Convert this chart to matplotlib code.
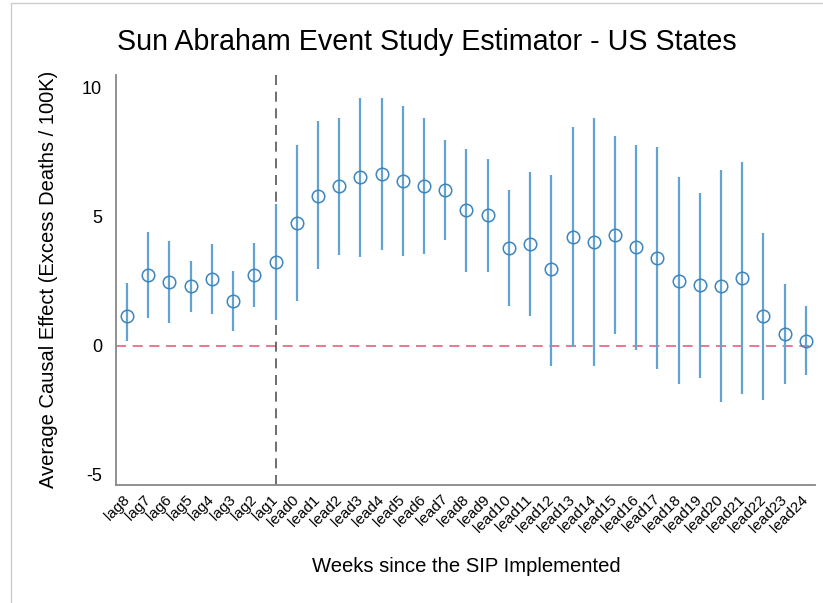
import matplotlib
matplotlib.use("Agg")
import matplotlib.pyplot as plt
import numpy as np
from matplotlib.patches import Rectangle

plt.rcParams['font.family'] = ['Liberation Sans', 'DejaVu Sans']
plt.rcParams['axes.unicode_minus'] = False

etiquetas = ["lag8", "lag7", "lag6", "lag5", "lag4", "lag3", "lag2", "lag1"] + \
    ["lead" + str(i) for i in range(25)]

estimado = [1.13, 2.72, 2.47, 2.30, 2.60, 1.74, 2.72, 3.24,
            4.75, 5.81, 6.18, 6.52, 6.65, 6.37, 6.20, 6.05, 5.24, 5.05,
            3.79, 3.95, 2.95, 4.20, 4.02, 4.28, 3.81, 3.40, 2.52, 2.33,
            2.30, 2.62, 1.14, 0.45, 0.19]
superior = [2.43, 4.41, 4.07, 3.29, 3.95, 2.91, 3.98, 5.47,
            7.79, 8.70, 8.82, 9.60, 9.60, 9.28, 8.82, 7.96, 7.64, 7.25,
            6.02, 6.72, 6.63, 8.46, 8.82, 8.11, 7.79, 7.69, 6.54, 5.92,
            6.82, 7.10, 4.37, 2.40, 1.52]
inferior = [0.17, 1.07, 0.88, 1.30, 1.24, 0.58, 1.50, 1.00,
            1.74, 2.95, 3.53, 3.44, 3.72, 3.46, 3.55, 4.08, 2.84, 2.84,
            1.55, 1.16, -0.78, -0.05, -0.78, 0.45, -0.16, -0.89, -1.51, -1.25,
            -2.20, -1.86, -2.13, -1.49, -1.15]

x = np.arange(len(etiquetas))
est = np.array(estimado)
err = [est - np.array(inferior), np.array(superior) - est]

fig = plt.figure(figsize=(8.23, 6.03), dpi=100)
ax = fig.add_axes([0.141, 0.196, 0.849, 0.680])

ax.axhline(0, color="#e8607a", linestyle=(0, (6, 4)), linewidth=1.2, zorder=1)
ax.axvline(7, color="#555555", linestyle=(0, (6, 4)), linewidth=1.2, zorder=1)

ax.errorbar(x, est, yerr=err, fmt="o", markersize=9, markerfacecolor="none",
            markeredgecolor="#3d85bd", markeredgewidth=1.1,
            ecolor="#62a3d2", elinewidth=1.6, capsize=0, zorder=3)

ax.set_xlim(-0.52, 32.42)
ax.set_ylim(-5.4, 10.5)
ax.set_yticks([-5, 0, 5, 10])
ax.set_xticks(x)
ax.set_xticklabels(etiquetas, rotation=45, ha="right", va="center",
                   rotation_mode="anchor", fontsize=11)
ax.tick_params(axis="y", labelsize=13, length=0, pad=10)
ax.tick_params(axis="x", length=0, pad=9)

for lado in ["top", "right"]:
    ax.spines[lado].set_visible(False)
for lado in ["left", "bottom"]:
    ax.spines[lado].set_color("#888888")
    ax.spines[lado].set_linewidth(1.3)

ax.set_ylabel("Average Causal Effect (Excess Deaths / 100K)", fontsize=14.5, labelpad=17.5)
fig.text(0.566, 0.0514, "Weeks since the SIP Implemented", fontsize=14.6,
         ha="center", va="baseline")
fig.text(0.518, 0.917, "Sun Abraham Event Study Estimator - US States",
         fontsize=20.6, ha="center", va="baseline")

fig.patches.append(Rectangle((11 / 823, -0.1), 1.2, 1.1 - 3 / 603,
                             transform=fig.transFigure, fill=False,
                             edgecolor="#cccccc", linewidth=1.0))

fig.savefig("out.png", dpi=100)
